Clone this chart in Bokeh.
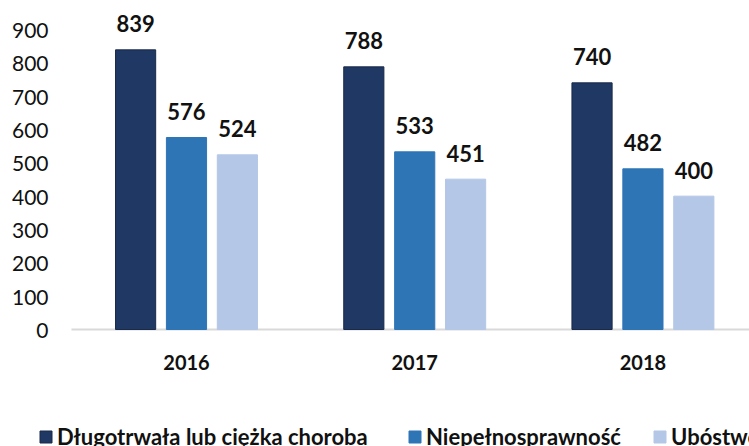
from bokeh.plotting import figure
from bokeh.models import ColumnDataSource, Range1d, Legend, LegendItem
from bokeh.core.properties import value
from bokeh.embed import file_html
from bokeh.resources import INLINE

years = ["2016", "2017", "2018"]
series_names = ["Długotrwała lub ciężka choroba", "Niepełnosprawność", "Ubóstwo"]
dlugotrwala = [839, 788, 740]
niepelnosprawnosc = [576, 533, 482]
ubostwo = [524, 451, 400]
y_ticks = [0, 100, 200, 300, 400, 500, 600, 700, 800, 900]

colors = ["#203864", "#2E75B6", "#B4C7E7"]
line_colors = ["#1a2a48", "#2E75B6", "#B4C7E7"]
offsets = [-0.223, 0.0, 0.223]
bar_w = 0.176
FONT = "Lato"
TXT = "#111111"

# The frame covers the whole canvas; value 0 sits at y=329 px (0.3334 px per unit),
# category 2016 at x=186 px (228.2 px per category).
X0, X1 = -0.815, 2.467
p = figure(width=749, height=446, output_backend="svg", toolbar_location=None,
           x_range=Range1d(X0, X1), y_range=Range1d(-351, 987),
           min_border_left=0, min_border_right=0, min_border_top=0, min_border_bottom=0)
p.outline_line_color = None
p.background_fill_color = "white"
p.border_fill_color = "white"
p.xgrid.visible = False
p.ygrid.visible = False
p.xaxis.visible = False
p.yaxis.visible = False

# category axis line
p.segment(x0=[-0.504], y0=[0], x1=[X1], y1=[0], line_color="#d9d9d9", line_width=2)

renderers = []
for vals, col, lc, off in zip([dlugotrwala, niepelnosprawnosc, ubostwo], colors, line_colors, offsets):
    src = ColumnDataSource(dict(x=[i + off for i in range(len(years))], top=vals,
                                lab=[str(v) for v in vals]))
    r = p.vbar(x="x", top="top", width=bar_w, bottom=0, source=src,
               fill_color=col, line_color=lc, line_width=1)
    renderers.append(r)
    p.text(x="x", y="top", text="lab", source=src, text_align="center",
           text_baseline="alphabetic", y_offset=-26, text_font=value(FONT),
           text_font_style="bold", text_font_size="22px", text_color=TXT)

# category labels
ysrc = ColumnDataSource(dict(x=list(range(len(years))), y=[0] * len(years), t=years))
p.text(x="x", y="y", text="t", source=ysrc, text_align="center", text_baseline="middle",
       y_offset=33, text_font=value(FONT), text_font_style="bold",
       text_font_size="20px", text_color=TXT)

# value axis labels
tsrc = ColumnDataSource(dict(x=[X0] * len(y_ticks), y=y_ticks, t=[str(v) for v in y_ticks]))
p.text(x="x", y="y", text="t", source=tsrc, text_align="right", text_baseline="middle",
       x_offset=48, y_offset=1, text_font=value(FONT), text_font_size="21px", text_color=TXT)

legend_x = [38, 407, 652]
for name, r, lx in zip(series_names, renderers, legend_x):
    lg = Legend(items=[LegendItem(label=name, renderers=[r])], location=(lx, -4),
                orientation="horizontal", glyph_width=15, glyph_height=15,
                label_standoff=4, padding=0, margin=0, spacing=0,
                border_line_color=None, background_fill_alpha=0,
                label_text_font=FONT, label_text_font_style="bold",
                label_text_font_size="22px", label_text_color=TXT)
    p.add_layout(lg, "center")

open("out.html", "w").write(file_html(p, INLINE))
